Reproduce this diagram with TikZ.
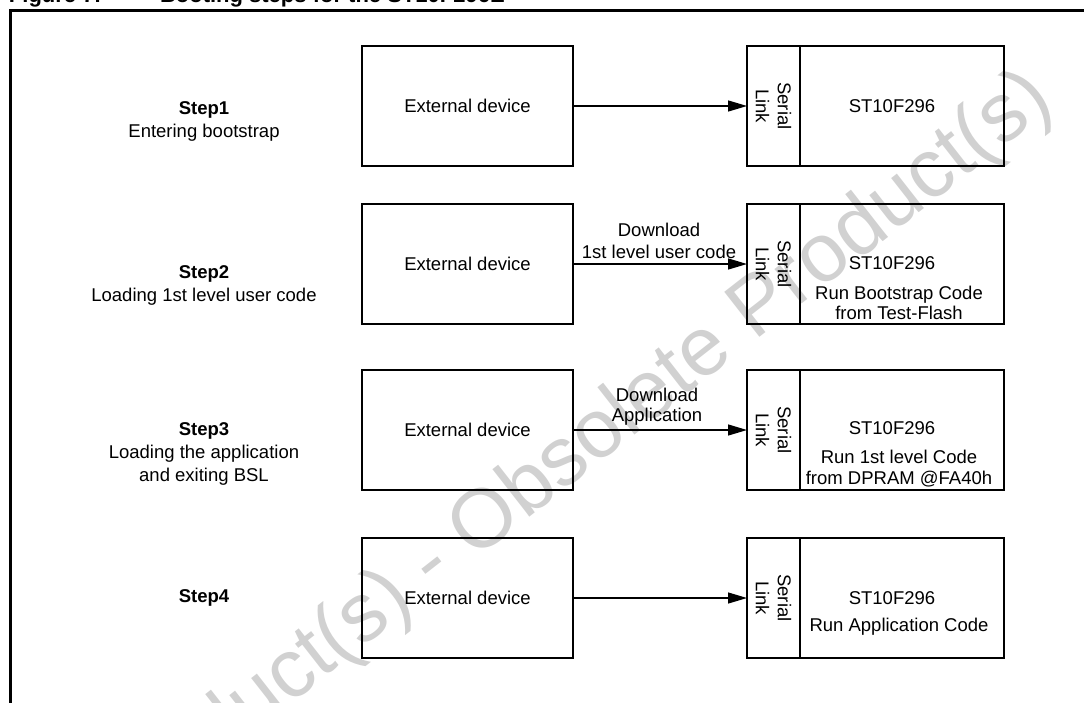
\documentclass[tikz,border=0pt]{standalone}
\usepackage{fontspec}
\setmainfont{Liberation Sans}
\usetikzlibrary{arrows.meta}
\begin{document}
\begin{tikzpicture}[x=1pt,y=-1pt,
  every node/.style={font=\fontsize{18.5}{22}\selectfont, inner sep=0pt, outer sep=0pt},
  box/.style={draw, line width=1.3pt, minimum height=120pt, inner sep=0pt},
  ext/.style={box, minimum width=211pt},
  ser/.style={box, minimum width=53pt},
  chip/.style={box, minimum width=204pt},
  arr/.style={line width=1.3pt, -{Triangle[length=19pt,width=11pt]}},
  lbl/.style={align=center},
  steplbl/.style={align=center, font=\fontsize{18.5}{23}\selectfont},
  wm/.style={text=black!18, font=\fontsize{83}{83}\selectfont, rotate=38},
  ttl/.style={font=\fontsize{22}{26}\selectfont\bfseries}
]
\useasboundingbox (0,0) rectangle (1084,702);
\clip (0,0) rectangle (1084,702);
% watermark
\node[wm, anchor=base east] (wmark) at (1056,106) {Obsolete Product(s) - Obsolete Product(s)};
% title and frame
\node[ttl, anchor=base west] (fig) at (9,2) {Figure 7.};
\node[ttl, anchor=base west] (title) at (160,2) {Booting steps for the ST10F296E};
\draw[line width=2.2pt] (10.5,10.5) rectangle (1200,800);
% row 1
\node[ext] (ext1) at (467.5,106) {External device};
\node[ser] (ser1) at (773.5,106) {};
\node[chip] (chip1) at (902,106) {};
\node[lbl, rotate=-90] (sl1) at (ser1.center) {Serial\\Link};
\node (st1) at (892,106) {ST10F296};
\node[steplbl] (s1) at (204,121) {\textbf{Step1}\\Entering bootstrap};
\draw[arr] (ext1.east) -- (ser1.west);
% row 2
\node[ext] (ext2) at (467.5,264) {External device};
\node[ser] (ser2) at (773.5,264) {};
\node[chip] (chip2) at (902,264) {};
\node[lbl, rotate=-90] (sl2) at (ser2.center) {Serial\\Link};
\node (st2) at (892,263) {ST10F296};
\node[lbl, font=\fontsize{18.5}{20.5}\selectfont] (r2) at (899,303) {Run Bootstrap Code\\from Test-Flash};
\node[steplbl] (s2) at (204,285.5) {\textbf{Step2}\\Loading 1st level user code};
\node[lbl] (d2) at (659,241) {Download\\1st level user code};
\draw[arr] (ext2.east) -- (ser2.west);
% row 3
\node[ext] (ext3) at (467.5,430) {External device};
\node[ser] (ser3) at (773.5,430) {};
\node[chip] (chip3) at (902,430) {};
\node[lbl, rotate=-90] (sl3) at (ser3.center) {Serial\\Link};
\node (st3) at (892,428) {ST10F296};
\node[lbl, font=\fontsize{18.5}{21}\selectfont] (r3) at (899,468.5) {Run 1st level Code\\from DPRAM @FA40h};
\node[steplbl] (s3) at (204,453.5) {\textbf{Step3}\\Loading the application\\and exiting BSL};
\node[lbl, font=\fontsize{18.5}{20}\selectfont] (d3) at (657,407) {Download\\Application};
\draw[arr] (ext3.east) -- (ser3.west);
% row 4
\node[ext] (ext4) at (467.5,598) {External device};
\node[ser] (ser4) at (773.5,598) {};
\node[chip] (chip4) at (902,598) {};
\node[lbl, rotate=-90] (sl4) at (ser4.center) {Serial\\Link};
\node (st4) at (892,598) {ST10F296};
\node (r4) at (899,627) {Run Application Code};
\node[steplbl] (s4) at (204,598) {\textbf{Step4}};
\draw[arr] (ext4.east) -- (ser4.west);
\end{tikzpicture}
\end{document}
